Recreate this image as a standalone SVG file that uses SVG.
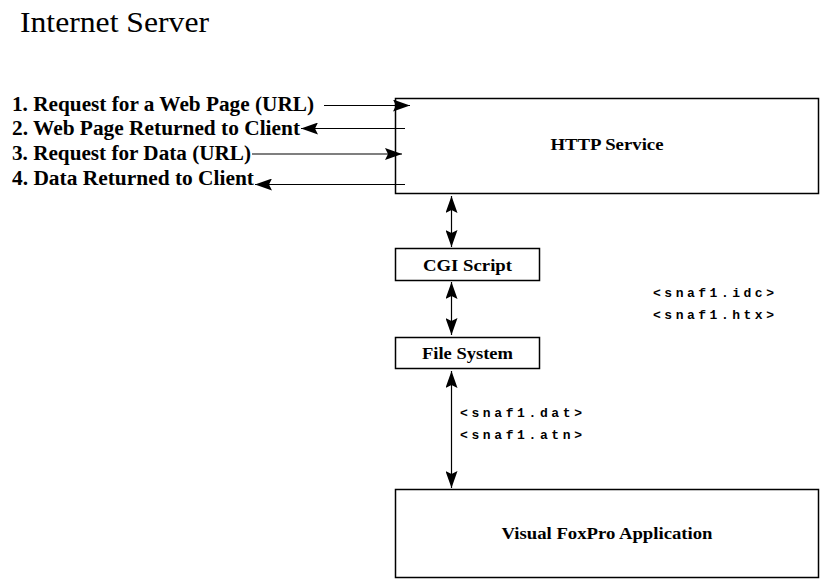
<svg xmlns="http://www.w3.org/2000/svg" width="828" height="585" viewBox="0 0 828 585">
<style>
  .box { fill: #ffffff; stroke: #000000; stroke-width: 1.5; }
  .lbl { font-family: "Liberation Serif", "Times New Roman", serif; font-weight: bold; fill: #000000; }
  .mono { font-family: "Liberation Mono", "Courier New", monospace; font-size: 13px; font-weight: bold; fill: #000000; }
  .conn { stroke: #000000; stroke-width: 1.2; fill: none; }
  .arr { marker-end: url(#head); }
  .both { marker-start: url(#head); marker-end: url(#head); }
</style>
<defs>
  <marker id="head" viewBox="0 0 17 12" refX="17" refY="6" markerWidth="17" markerHeight="12" markerUnits="userSpaceOnUse" orient="auto-start-reverse">
    <path d="M0,0 L17,6 L0,12 L3,6 Z" fill="#000000"/>
  </marker>
</defs>
<rect width="828" height="585" fill="#ffffff"/>

<text id="title" x="20" y="32" font-family="'Liberation Serif', 'Times New Roman', serif" font-size="29" textLength="189" lengthAdjust="spacingAndGlyphs">Internet Server</text>

<g id="steps">
  <text class="lbl" x="12" y="111" font-size="20" textLength="302" lengthAdjust="spacingAndGlyphs">1. Request for a Web Page (URL)</text>
  <text class="lbl" x="12" y="135" font-size="20" textLength="288" lengthAdjust="spacingAndGlyphs">2. Web Page Returned to Client</text>
  <text class="lbl" x="12" y="160" font-size="20" textLength="239" lengthAdjust="spacingAndGlyphs">3. Request for Data (URL)</text>
  <text class="lbl" x="12" y="185" font-size="20" textLength="242" lengthAdjust="spacingAndGlyphs">4. Data Returned to Client</text>
</g>

<g id="http-service">
  <rect class="box" x="395.5" y="98.5" width="423" height="95"/>
  <text class="lbl" x="607" y="150" font-size="16" text-anchor="middle" textLength="113" lengthAdjust="spacingAndGlyphs">HTTP Service</text>
</g>

<g id="cgi-script">
  <rect class="box" x="395.5" y="248.5" width="144" height="32"/>
  <text class="lbl" x="467.5" y="271" font-size="16" text-anchor="middle" textLength="89" lengthAdjust="spacingAndGlyphs">CGI Script</text>
</g>

<g id="file-system">
  <rect class="box" x="395.5" y="337.5" width="144" height="31"/>
  <text class="lbl" x="467.5" y="359" font-size="16" text-anchor="middle" textLength="91" lengthAdjust="spacingAndGlyphs">File System</text>
</g>

<g id="vfp-app">
  <rect class="box" x="395.5" y="489.5" width="423" height="88"/>
  <text class="lbl" x="607" y="539" font-size="16" text-anchor="middle" textLength="211" lengthAdjust="spacingAndGlyphs">Visual FoxPro Application</text>
</g>

<g id="file-labels">
  <text class="mono" x="653" y="297" textLength="121" lengthAdjust="spacing">&lt;snaf1.idc&gt;</text>
  <text class="mono" x="653" y="319" textLength="121" lengthAdjust="spacing">&lt;snaf1.htx&gt;</text>
  <text class="mono" x="460" y="417" textLength="122" lengthAdjust="spacing">&lt;snaf1.dat&gt;</text>
  <text class="mono" x="460" y="439" textLength="122" lengthAdjust="spacing">&lt;snaf1.atn&gt;</text>
</g>

<g id="connectors">
  <line class="conn arr" x1="324" y1="105.5" x2="410" y2="105.5"/>
  <line class="conn arr" x1="405" y1="128.5" x2="301" y2="128.5"/>
  <line class="conn arr" x1="252" y1="154" x2="402" y2="154"/>
  <line class="conn arr" x1="405" y1="184.5" x2="255" y2="184.5"/>
  <line class="conn both" x1="451.5" y1="196" x2="451.5" y2="247"/>
  <line class="conn both" x1="451.5" y1="282" x2="451.5" y2="335"/>
  <line class="conn both" x1="451.5" y1="371" x2="451.5" y2="488"/>
</g>
</svg>
